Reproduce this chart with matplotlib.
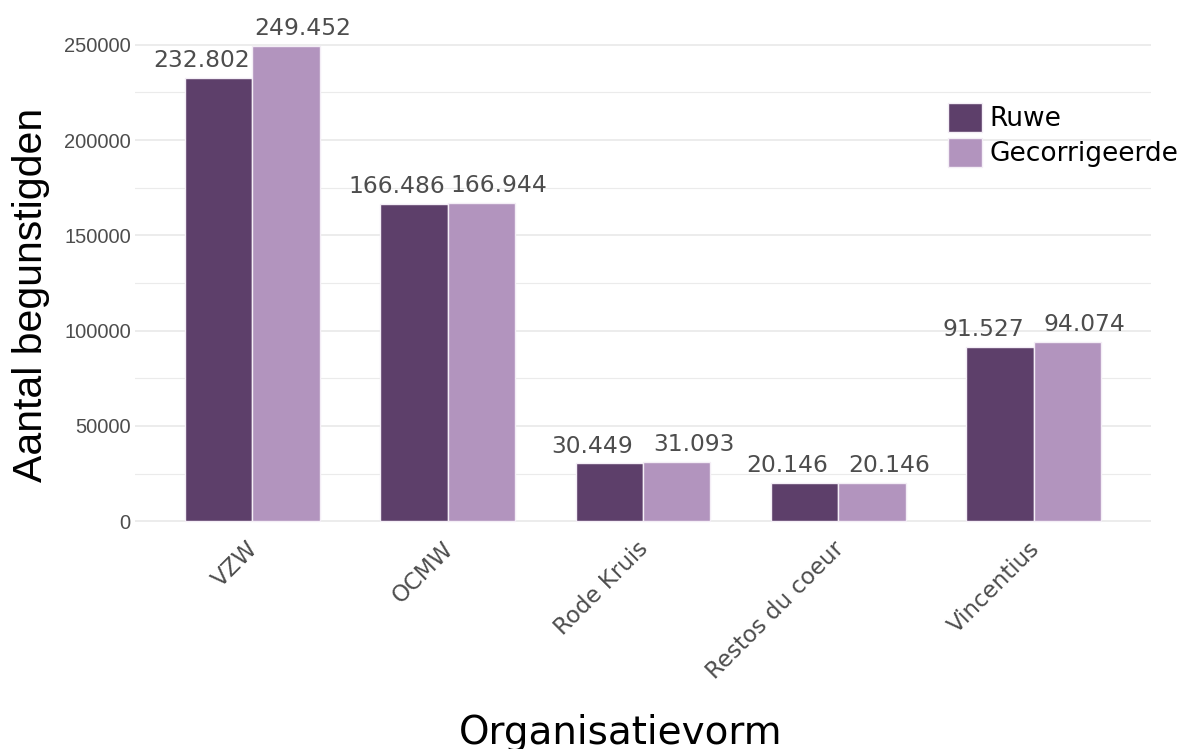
import numpy as np
import matplotlib
matplotlib.use("Agg")
import matplotlib.pyplot as plt
import matplotlib.transforms as mtransforms

categories = ["VZW", "OCMW", "Rode Kruis", "Restos du coeur", "Vincentius"]
ruwe = [232802, 166486, 30449, 20146, 91527]
gecorrigeerd = [249452, 166944, 31093, 20146, 94074]
series_names = ["Ruwe", "Gecorrigeerde"]
colors = ["#5D3F6A", "#B294BE"]


def fmt(v):
    return f"{v:,}".replace(",", ".")


fig = plt.figure(figsize=(11.82, 7.49), dpi=100)
ax = fig.add_axes([135 / 1182, 1 - 545 / 749, 1016 / 1182, 523 / 749])

x = np.arange(len(categories))
w = 0.345
for k, (vals, name, c) in enumerate(zip([ruwe, gecorrigeerd], series_names, colors)):
    off = (k - 0.5) * w
    ax.bar(x + off, vals, width=w, color=c, edgecolor="#F4EEF6", linewidth=1.0,
           label=name, zorder=3)
    loff = (k - 0.5) * 0.52
    for xi, v in zip(x, vals):
        ax.annotate(fmt(v), (xi + loff, v), xytext=(0, 4), textcoords="offset points",
                    ha="center", va="bottom", fontsize=16.8, color="#4D4D4D",
                    family="DejaVu Sans", zorder=4)

ymax = max(gecorrigeerd) * 1.05
ax.set_ylim(-max(gecorrigeerd) * 0.05, ymax)
ax.set_xlim(-0.6, len(categories) - 0.4)

ax.set_yticks(np.arange(0, 250001, 50000))
ax.set_yticks(np.arange(25000, 250001, 50000), minor=True)
ax.set_yticklabels([str(v) for v in range(0, 250001, 50000)],
                   family="Liberation Sans", fontsize=14.5, color="#4D4D4D")
ax.tick_params(axis="both", which="both", length=0)
ax.tick_params(axis="y", pad=3)
ax.tick_params(axis="x", pad=-5.5)
ax.set_xticks(x)
ax.set_xticklabels(categories, rotation=45, ha="right", va="top",
                   rotation_mode="anchor", family="DejaVu Sans", fontsize=16.5,
                   color="#4D4D4D")
shift = mtransforms.ScaledTranslation(-0.06, 0, fig.dpi_scale_trans)
for lab in ax.get_xticklabels():
    lab.set_transform(lab.get_transform() + shift)

ax.grid(axis="y", which="major", color="#EBEBEB", linewidth=1.3, zorder=0)
ax.grid(axis="y", which="minor", color="#EBEBEB", linewidth=0.8, zorder=0)
ax.grid(axis="x", which="major", visible=False)
for s in ax.spines.values():
    s.set_visible(False)

fig.text(621 / 1182, 5 / 749, "Organisatievorm", ha="center", va="baseline",
         fontsize=28, family="DejaVu Sans", color="black")
fig.text(12 / 1182, 1 - 295 / 749, "Aantal begunstigden", rotation=90, ha="left",
         va="center", fontsize=29.5, family="Liberation Sans", color="black")

leg = ax.legend(loc="upper left", bbox_to_anchor=(0.80, 0.845), frameon=False,
                fontsize=19, handlelength=1.29, handleheight=1.29, handletextpad=0.3,
                labelspacing=0.23, borderaxespad=0, borderpad=0)
for t in leg.get_texts():
    t.set_family("DejaVu Sans")

fig.savefig("out.png", dpi=100)
